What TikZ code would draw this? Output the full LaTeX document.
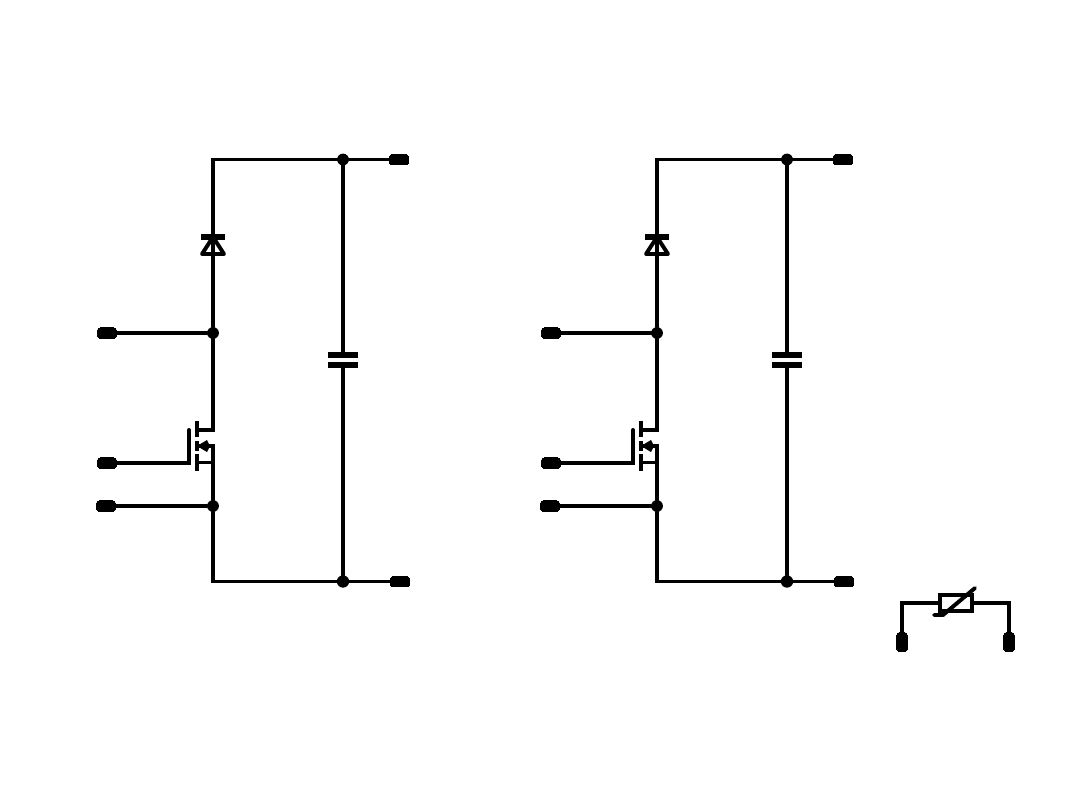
\documentclass[tikz,border=0pt]{standalone}
\usepackage{tikz}

\tikzset{
    wire/.style={line width=2.8pt, line cap=round, line join=miter},
    thin wire/.style={line width=2.5pt},
    plate/.style={line width=3.6pt},
    terminal/.style={draw=black, fill=black, line width=0pt, inner sep=0pt, minimum width=13.8pt, minimum height=7.6pt, rounded corners=2.4pt},
    junction/.style={circle, fill=black, inner sep=0pt, minimum size=8.4pt}
}

\begin{document}
\begin{tikzpicture}[x=0.025cm, y=-0.025cm]

            \useasboundingbox (0,0) rectangle (1080,810);

            \foreach \n/\dx in {a/0, b/444} {
                \begin{scope}[xshift=\dx*0.025cm]
                    % rails and terminals
                    \node[terminal] (top\n) at (399,159.5) {};
                    \node[terminal] (bottom\n) at (400,581.5) {};
                    \node[terminal] (mid\n) at (107,333) {};
                    \node[terminal] (gate\n) at (107,463) {};
                    \node[terminal] (kelvin\n) at (106,506) {};

                    \node[junction] (captop\n) at (343,159.5) {};
                    \node[junction, minimum size=8.8pt] (capbot\n) at (343,581.5) {};
                    \node[junction] (midj\n) at (213,333) {};
                    \node[junction] (kelvinj\n) at (213,506) {};

                    \coordinate (cornertop\n) at (213,159.5);
                    \coordinate (cornerbot\n) at (213,581.5);
                    \coordinate (drain\n) at (197,430);
                    \coordinate (source\n) at (197,462.5);
                    \coordinate (gatebar\n) at (189,463);
                    \coordinate (capa\n) at (343,355);
                    \coordinate (capb\n) at (343,365);

                    \draw[wire] (top\n) -- (cornertop\n) -- (midj\n);
                    \draw[wire] (midj\n) -- (213,430) -- (drain\n);
                    \draw[wire] (mid\n) -- (midj\n);
                    \draw[wire] (gate\n) -- (gatebar\n) -- (189,430);
                    \draw[wire] (kelvin\n) -- (kelvinj\n);
                    \draw[wire] (bottom\n) -- (cornerbot\n) -- (kelvinj\n);
                    \draw[wire] (kelvinj\n) -- (213,446) -- (200,446);
                    \draw[wire] (source\n) -- (213,462.5);

                    % capacitor
                    \draw[wire] (captop\n) -- (capa\n);
                    \draw[wire] (capb\n) -- (capbot\n);
                    \draw[plate] (328,355) -- (358,355);
                    \draw[plate] (328,365) -- (358,365);

                    % diode
                    \draw[plate] (201,237) -- (225,237);
                    \draw[wire, line join=round] (213,237) -- (202,254) -- (224,254) -- cycle;

                    % mosfet channel
                    \draw[thin wire] (197,421) -- (197,437);
                    \draw[thin wire] (197,441) -- (197,451);
                    \draw[thin wire] (197,454) -- (197,471);
                    \fill (197,446) -- (207,440) -- (210,446) -- (207,452) -- cycle;
                \end{scope}
            }

            % varistor
            \node[terminal, rotate=90] (varleft) at (902,642) {};
            \node[terminal, rotate=90] (varright) at (1009,642) {};
            \node[draw=black, line width=2.8pt, inner sep=0pt, minimum width=23.4pt, minimum height=11.8pt] (varbody) at (956,603) {};

            \draw[wire] (varleft) -- (902,603) -- (varbody);
            \draw[wire] (varright) -- (1009,603) -- (varbody);
            \draw[wire, line join=round] (934,615) -- (943,615) -- (975,588);

\end{tikzpicture}
\end{document}
